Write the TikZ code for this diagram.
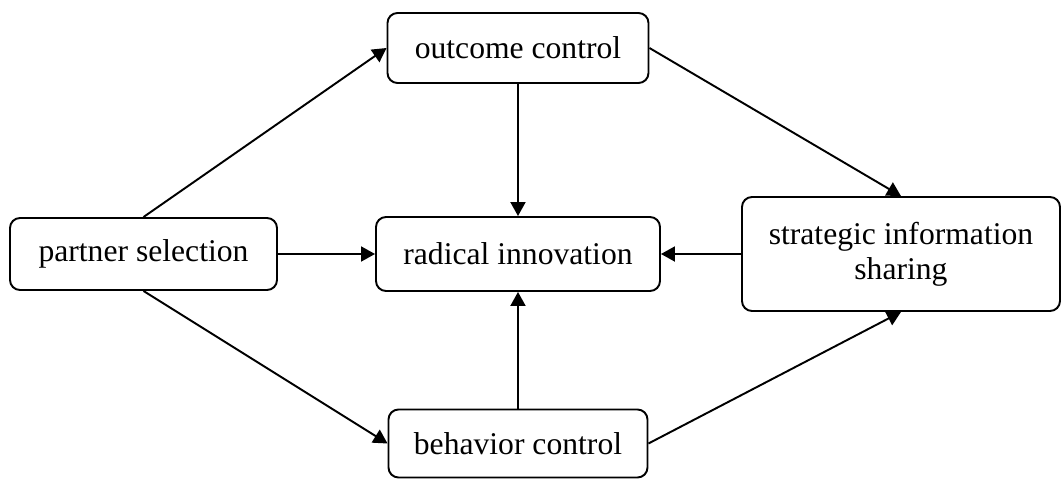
\documentclass[tikz,border=0pt]{standalone}
\usepackage{fontspec}
\setmainfont{Liberation Serif}
\usepackage{tikz}
\usetikzlibrary{shapes,arrows.meta,positioning}

\begin{document}
\begin{tikzpicture}

\tikzstyle{conn} = [line width=1.1pt, -{Triangle[length=0.28cm,width=0.3cm]}]

\tikzstyle{comp}=[draw, line width=1.1pt, rounded corners=0.2cm, fill=white,
    align=center, inner sep=0pt, font=\fontsize{18}{20}\selectfont]

\useasboundingbox (-10.36,-4.5) rectangle (10.88,5.08);

\node[comp,minimum width=5.68cm,minimum height=1.48cm] (rad) {radical innovation};
\node[comp,above of=rad,node distance=4.12cm,minimum width=5.22cm,minimum height=1.4cm] (oc) {outcome control};
\node[comp,below of=rad,node distance=3.79cm,minimum width=5.18cm,minimum height=1.36cm] (bc) {behavior control};
\node[comp,left of=rad,node distance=7.49cm,minimum width=5.34cm,minimum height=1.44cm] (ps) {partner selection};
\node[comp,right of=rad,node distance=7.66cm,minimum width=6.36cm,minimum height=2.28cm] (sis) {strategic information\\sharing};

\draw[conn] (ps.north) to (oc.west);
\draw[conn] (ps.east) to (rad.west);
\draw[conn] (ps.south) to (bc.west);

\draw[conn] (oc) to (rad);
\draw[conn] (bc) to (rad);
\draw[conn] (sis) to (rad);

\draw[conn] (oc.east) to (sis.north);
\draw[conn] (bc.east) to (sis.south);

\end{tikzpicture}
\end{document}
